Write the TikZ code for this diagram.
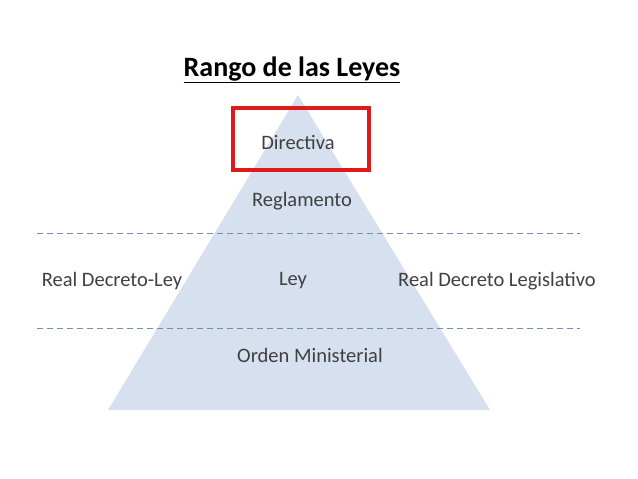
\documentclass[tikz,border=0pt]{standalone}
\usepackage{fontspec}
\setmainfont{Carlito}
\usetikzlibrary{positioning}
\definecolor{pyrblue}{RGB}{214,224,238}
\definecolor{dashblue}{RGB}{110,145,185}
\definecolor{txtgray}{RGB}{64,64,64}
\definecolor{boxred}{RGB}{225,25,25}
\tikzset{
  label/.style={text=txtgray, font=\fontsize{20.5}{24}\selectfont, inner sep=0pt},
  divider/.style={dashblue, dash pattern=on 6pt off 4pt, line width=1pt}
}
\begin{document}
\begin{tikzpicture}[x=1pt, y=-1pt]
    \useasboundingbox (0,0) rectangle (638,479);
    % piramide
    \fill[pyrblue] (298,95) -- (490,410) -- (108,410) -- cycle;
    \node[font=\fontsize{28}{32}\selectfont\bfseries, inner sep=0pt] (title) at (292,70) {\underline{Rango de las Leyes}};
    % lineas
    \coordinate (d1a) at (37,233);
    \coordinate (d1b) at (580,233);
    \coordinate (d2a) at (37,328);
    \coordinate (d2b) at (580,328);
    \draw[divider] (d1a) -- (d1b);
    \draw[divider] (d2a) -- (d2b);
    % niveles
    \node[label] (directiva) at (298,142) {Directiva};
    \node[label] (reglamento) at (302,201) {Reglamento};
    \node[label] (ley) at (293,281) {Ley};
    \node[label] (rdl) at (112,281) {Real Decreto-Ley};
    \node[label] (rdleg) at (497,281) {Real Decreto Legislativo};
    \node[label] (orden) at (310,355) {Orden Ministerial};
    \draw[boxred, line width=3.5pt] (233,108) rectangle (369,170);
\end{tikzpicture}
\end{document}
